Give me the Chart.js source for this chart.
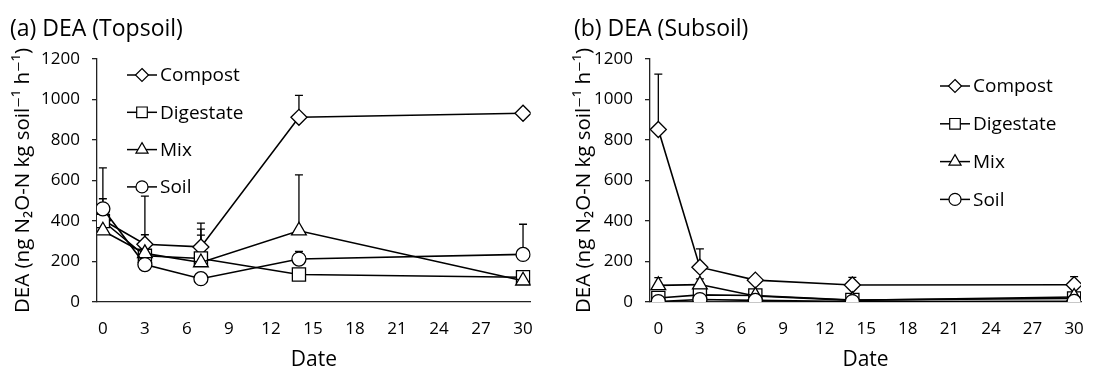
<!DOCTYPE html>
<html>
<head>
<meta charset="utf-8">
<script src="https://cdn.jsdelivr.net/npm/chart.js@4.4.1/dist/chart.umd.min.js"></script>
<style>
  html, body { margin: 0; padding: 0; background: #fff; }
  #wrap { position: relative; width: 1101px; height: 368px; }
  #pa { position: absolute; left: 0; top: 0; }
  #pb { position: absolute; left: 550px; top: 0; }
</style>
</head>
<body>
<div id="wrap">
  <canvas id="pa" width="550" height="368"></canvas>
  <canvas id="pb" width="551" height="368"></canvas>
</div>
<script>
// ---- data ----
const days = [0, 3, 7, 14, 30];
const xTicks = [0, 3, 6, 9, 12, 15, 18, 21, 24, 27, 30];
const yTicks = [0, 200, 400, 600, 800, 1000, 1200];
const seriesNames = ['Compost', 'Digestate', 'Mix', 'Soil'];
const seriesMarkers = ['rectRot', 'rect', 'triangle', 'circle'];

// Topsoil (panel a): means and upper error (SD)
const topCompost = [405, 285, 272, 912, 932];
const topCompostErr = [0, 47, 118, 108, 0];
const topDigestate = [400, 228, 215, 136, 122];
const topDigestateErr = [110, 0, 145, 0, 0];
const topMix = [352, 240, 195, 352, 105];
const topMixErr = [0, 0, 135, 276, 0];
const topSoil = [460, 185, 115, 212, 235];
const topSoilErr = [202, 338, 0, 38, 149];

// Subsoil (panel b)
const subCompost = [852, 172, 108, 84, 85];
const subCompostErr = [273, 90, 0, 38, 40];
const subDigestate = [20, 35, 32, 10, 18];
const subDigestateErr = [0, 0, 0, 0, 0];
const subMix = [82, 86, 30, 8, 25];
const subMixErr = [38, 28, 0, 0, 0];
const subSoil = [2, 12, 8, 2, 3];
const subSoilErr = [0, 0, 0, 0, 0];

const yTitle = 'DEA (ng N\u2082O-N kg soil\u207B\u00B9 h\u207B\u00B9)';
const FONT = '"Open Sans", "DejaVu Sans", sans-serif';

// ---- marker drawing ----
function markerPath(ctx, style, x, y, r) {
  ctx.beginPath();
  if (style === 'rectRot') {
    ctx.moveTo(x, y - r); ctx.lineTo(x + r, y); ctx.lineTo(x, y + r); ctx.lineTo(x - r, y); ctx.closePath();
  } else if (style === 'rect') {
    const h = r * Math.SQRT1_2;
    ctx.rect(x - h, y - h, 2 * h, 2 * h);
  } else if (style === 'triangle') {
    ctx.moveTo(x, y - r);
    ctx.lineTo(x + r * 0.866, y + r * 0.5);
    ctx.lineTo(x - r * 0.866, y + r * 0.5);
    ctx.closePath();
  } else {
    ctx.arc(x, y, r, 0, Math.PI * 2);
  }
}

const errorBarPlugin = {
  id: 'errBars',
  beforeDatasetsDraw(chart, args, opts) {
    const ctx = chart.ctx, xs = chart.scales.x, ys = chart.scales.y;
    ctx.save();
    ctx.strokeStyle = '#000';
    ctx.lineWidth = 1.3;
    chart.data.datasets.forEach((ds) => {
      ds.errors.forEach((e, i) => {
        if (!e) return;
        const px = xs.getPixelForValue(days[i]);
        const y0 = ys.getPixelForValue(ds.data[i].y);
        const y1 = ys.getPixelForValue(ds.data[i].y + e);
        ctx.beginPath();
        ctx.moveTo(px, y0); ctx.lineTo(px, y1);
        ctx.moveTo(px - 4, y1); ctx.lineTo(px + 4, y1);
        ctx.stroke();
      });
    });
    ctx.restore();
  }
};

const insideLegendPlugin = {
  id: 'insideLegend',
  afterDraw(chart, args, opts) {
    const ctx = chart.ctx;
    ctx.save();
    seriesNames.forEach((name, i) => {
      const y = opts.y + i * opts.gap;
      ctx.strokeStyle = '#000';
      ctx.lineWidth = 1.5;
      ctx.beginPath(); ctx.moveTo(opts.x, y); ctx.lineTo(opts.x + 30, y); ctx.stroke();
      markerPath(ctx, seriesMarkers[i], opts.x + 15, y, opts.r[i]);
      ctx.fillStyle = '#fff'; ctx.fill();
      ctx.lineWidth = 1.2; ctx.stroke();
      ctx.fillStyle = '#000';
      ctx.font = '19px ' + FONT;
      ctx.textBaseline = 'middle';
      ctx.textAlign = 'left';
      ctx.fillText(name, opts.x + 33, y + 1);
    });
    ctx.restore();
  }
};

const markerRadius = [8, 9.3, 8.5, 7];
const legendRadius = [6.5, 7.5, 7, 6];

function makeDatasets(values, errors) {
  return values.map((vals, k) => ({
    label: seriesNames[k],
    data: vals.map((v, i) => ({ x: days[i], y: v })),
    errors: errors[k],
    borderColor: '#000',
    borderWidth: 1.6,
    pointStyle: seriesMarkers[k],
    pointRadius: markerRadius[k],
    pointBackgroundColor: '#fff',
    pointBorderColor: '#000',
    pointBorderWidth: 1.3,
    tension: 0,
    fill: false,
    order: 4 - k
  }));
}

function makeChart(id, title, values, errors, cfg) {
  return new Chart(document.getElementById(id), {
    type: 'line',
    data: { datasets: makeDatasets(values, errors) },
    options: {
      responsive: false,
      animation: false,
      events: [],
      layout: { padding: { left: cfg.padLeft, right: cfg.padRight, top: 0, bottom: 0 } },
      plugins: {
        legend: { display: false },
        tooltip: { enabled: false },
        title: {
          display: true, text: title, align: 'start', color: '#000',
          font: { family: FONT, size: 23, weight: 'normal', lineHeight: 1.2 },
          padding: { top: 16, bottom: 15.4 }
        },
        insideLegend: cfg.legend
      },
      scales: {
        x: {
          type: 'linear', min: cfg.xMin, max: cfg.xMax,
          afterBuildTicks: (s) => { s.ticks = xTicks.map(v => ({ value: v })); },
          afterFit: (s) => { s.height = 66; },
          grid: { display: true, drawOnChartArea: false, drawTicks: false },
          border: { display: true, color: '#222', width: 1.3 },
          ticks: { color: '#000', padding: 17, font: { family: FONT, size: 17 }, callback: (v) => String(v) },
          title: { display: true, text: 'Date', color: '#000', font: { family: FONT, size: 21, lineHeight: 1 }, padding: { top: 0, bottom: -3 } }
        },
        y: {
          min: 0, max: 1200,
          afterBuildTicks: (s) => { s.ticks = yTicks.map(v => ({ value: v })); },
          afterFit: (s) => { s.width = cfg.yWidth; },
          grid: { display: true, drawOnChartArea: false, drawTicks: true, tickLength: 5, color: '#222', lineWidth: 1.3 },
          border: { display: true, color: '#222', width: 1.3 },
          ticks: { color: '#000', padding: 12, font: { family: FONT, size: 17 }, callback: (v) => String(v) },
          title: { display: true, text: yTitle, color: '#000', font: { family: FONT, size: 20.5, lineHeight: 1 }, padding: { top: cfg.yTitlePad, bottom: 0 } }
        }
      }
    },
    plugins: [errorBarPlugin, insideLegendPlugin]
  });
}

makeChart('pa', '(a) DEA (Topsoil)',
  [topCompost, topDigestate, topMix, topSoil],
  [topCompostErr, topDigestateErr, topMixErr, topSoilErr],
  { padLeft: 10, padRight: 14, yWidth: 87, yTitlePad: 2.5, xMin: -0.42, xMax: 30.55,
    legend: { x: 127, y: 75, gap: 37.3, r: legendRadius } });

makeChart('pb', '(b) DEA (Subsoil)',
  [subCompost, subDigestate, subMix, subSoil],
  [subCompostErr, subDigestateErr, subMixErr, subSoilErr],
  { padLeft: 24, padRight: 4, yWidth: 76, yTitlePad: 0, xMin: -0.6, xMax: 30.5,
    legend: { x: 940 - 550, y: 86, gap: 37.8, r: legendRadius } });
</script>
</body>
</html>
